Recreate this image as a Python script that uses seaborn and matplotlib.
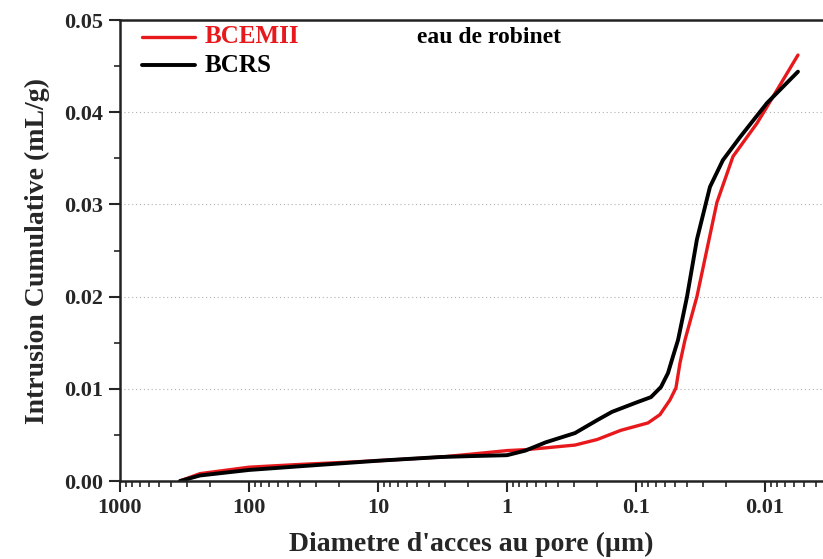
import matplotlib
matplotlib.use('Agg')
import matplotlib.pyplot as plt
from matplotlib.ticker import FixedLocator, LogLocator, NullFormatter, MultipleLocator
import pandas as pd
import seaborn as sb

# BCEMII (red) : diametre (um) / intrusion cumulee (mL/g)
d_cem = [343, 240, 100, 40.3, 10, 3.3, 1.94, 1.0, 0.72, 0.50, 0.297, 0.200,
         0.131, 0.0807, 0.0652, 0.0545, 0.049, 0.0456, 0.0417, 0.0337,
         0.0282, 0.0236, 0.0177, 0.01154, 0.00964, 0.00555]
v_cem = [0.0, 0.0008, 0.0015, 0.0018, 0.0022, 0.0026, 0.0029, 0.0033, 0.0034,
         0.0036, 0.0039, 0.0045, 0.0055, 0.0063, 0.0072, 0.0088, 0.0101,
         0.0128, 0.0153, 0.0200, 0.0251, 0.0302, 0.0352, 0.0388, 0.0406, 0.0462]

# BCRS (black)
d_crs = [343, 240, 100, 40.3, 10, 3.3, 1.94, 1.0, 0.72, 0.50, 0.297, 0.200,
         0.1535, 0.1, 0.0765, 0.064, 0.0565, 0.0517, 0.0472, 0.0402, 0.0337,
         0.0267, 0.0212, 0.0156, 0.00964, 0.00555]
v_crs = [0.0, 0.0006, 0.0012, 0.0016, 0.0022, 0.0026, 0.0027, 0.0028, 0.0033,
         0.0042, 0.0052, 0.0066, 0.0075, 0.0085, 0.0091, 0.0102, 0.0117,
         0.0135, 0.0153, 0.0200, 0.0262, 0.0319, 0.0348, 0.0373, 0.0410, 0.0444]

x_ticks = [1000, 100, 10, 1, 0.1, 0.01]
x_labels = ['1000', '100', '10', '1', '0.1', '0.01']

df = pd.concat([
    pd.DataFrame({'d': d_cem, 'v': v_cem, 'serie': 'BCEMII'}),
    pd.DataFrame({'d': d_crs, 'v': v_crs, 'serie': 'BCRS'}),
])

sb.set_style('white')
plt.rcParams['font.family'] = ['Liberation Serif', 'DejaVu Serif']
plt.rcParams['font.weight'] = 'bold'

fig = plt.figure(figsize=(8.23, 5.59), dpi=100)
ax = fig.add_axes([0.1458, 0.1395, 0.8542, 0.8247])

sb.lineplot(data=df, x='d', y='v', hue='serie', sort=False,
            palette={'BCEMII': '#e8191c', 'BCRS': 'black'}, ax=ax, legend=False)
ax.lines[0].set_linewidth(2.4)
ax.lines[1].set_linewidth(2.8)

ax.set_xscale('log')
ax.set_xlim(1000, 0.00355)
ax.set_ylim(0, 0.05)

ax.xaxis.set_major_locator(FixedLocator(x_ticks))
ax.set_xticklabels(x_labels)
ax.xaxis.set_minor_locator(LogLocator(base=10, subs=range(2, 10), numticks=20))
ax.xaxis.set_minor_formatter(NullFormatter())
ax.set_yticks([0, 0.01, 0.02, 0.03, 0.04, 0.05])
ax.set_yticklabels(['0.00', '0.01', '0.02', '0.03', '0.04', '0.05'])
ax.yaxis.set_minor_locator(MultipleLocator(0.005))

ax.tick_params(which='major', direction='out', length=8, width=1.5,
               labelsize=16, left=True, bottom=True, pad=4)
ax.tick_params(which='minor', direction='out', length=4, width=1.2,
               left=True, bottom=True)

for y in [0.01, 0.02, 0.03, 0.04]:
    ax.axhline(y, color='#b0b0b0', linestyle=(0, (1, 2.5)), linewidth=0.8, zorder=0)

for s in ['left', 'bottom', 'top']:
    ax.spines[s].set_linewidth(1.8)
    ax.spines[s].set_color('#222222')
ax.spines['right'].set_visible(False)

ax.set_xlabel("Diametre d'acces au pore (µm)", fontsize=20, fontweight='bold', labelpad=10)
ax.set_ylabel('Intrusion Cumulative (mL/g)', fontsize=20, fontweight='bold', labelpad=10)

# legende
ax.plot([675, 262], [0.0482, 0.0482], color='#e8191c', lw=2.4)
ax.plot([675, 262], [0.0451, 0.0451], color='black', lw=2.8)
ax.text(219, 0.0482, 'BCEMII', color='#e8191c', fontsize=18, fontweight='bold', va='center')
ax.text(219, 0.0451, 'BCRS', color='black', fontsize=18, fontweight='bold', va='center')
ax.text(5.0, 0.0481, 'eau de robinet', color='black', fontsize=17, fontweight='bold', va='center')

fig.savefig('out.png', dpi=100)
